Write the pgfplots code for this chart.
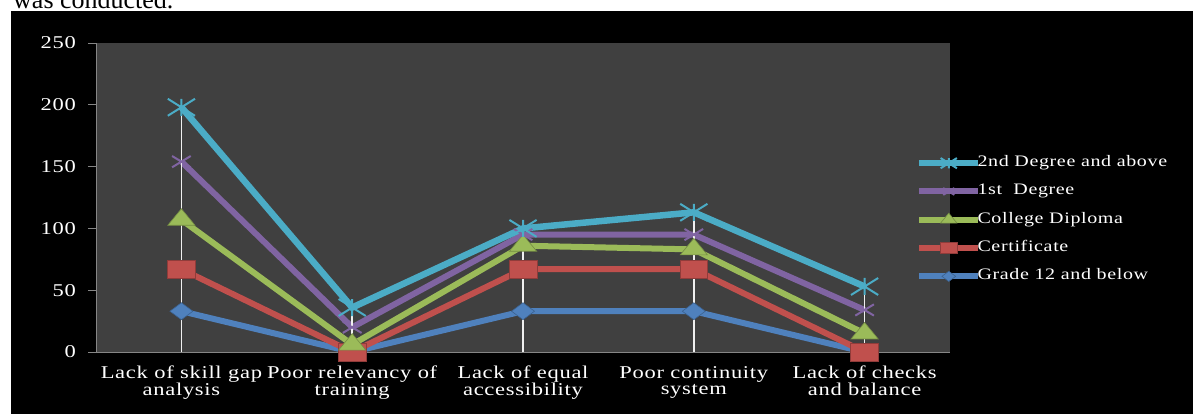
\documentclass[border=0pt]{standalone}
\usepackage{fontspec}
\setmainfont{Liberation Serif}[FakeStretch=1.25, LetterSpace=4]
\newfontfamily\docfont{Liberation Serif}
\usepackage{pgfplots}
\usepackage{pgfplotstable}
\pgfplotsset{compat=1.18}

\definecolor{serCyan}{HTML}{4BACC6}
\definecolor{serPurple}{HTML}{8064A2}
\definecolor{serGreen}{HTML}{9BBB59}
\definecolor{serRed}{HTML}{C0504D}
\definecolor{serBlue}{HTML}{4F81BD}
\definecolor{plotbg}{HTML}{404040}
\definecolor{axisgray}{HTML}{868686}

% x mark with a vertical bar through it
\pgfdeclareplotmark{xbar}{%
  \pgfpathmoveto{\pgfqpoint{-\pgfplotmarksize}{-\pgfplotmarksize}}%
  \pgfpathlineto{\pgfqpoint{\pgfplotmarksize}{\pgfplotmarksize}}%
  \pgfpathmoveto{\pgfqpoint{-\pgfplotmarksize}{\pgfplotmarksize}}%
  \pgfpathlineto{\pgfqpoint{\pgfplotmarksize}{-\pgfplotmarksize}}%
  \pgfpathmoveto{\pgfqpoint{0pt}{-\pgfplotmarksize}}%
  \pgfpathlineto{\pgfqpoint{0pt}{\pgfplotmarksize}}%
  \pgfusepathqstroke}

% cumulative values per category (stacked lines)
\pgfplotstableread{
x grade cert dipl first second
0 33 67 107 154 198
1 0 0 6 20 36
2 33 67 86 95 100
3 33 67 83 95 113
4 0 0 15 34 53
}\levels

\newcommand\lblfont{\fontsize{18bp}{16.5bp}\selectfont}
\newcommand\legfont{\fontsize{16bp}{17bp}\selectfont}

\begin{document}
\begin{tikzpicture}
\useasboundingbox (0,0) rectangle (1193bp,-414bp);
\clip (0,0) rectangle (1193bp,-414bp);
\fill[white] (0,0) rectangle (1193bp,-414bp);
\node[anchor=base west, inner sep=0pt, font=\docfont\fontsize{26bp}{28bp}\selectfont]
  at (13bp,-8bp) {was conducted.};
\fill[black] (11bp,-11bp) rectangle (1193bp,-414bp);

\begin{axis}[
  at={(96bp,-352bp)}, anchor=south west,
  scale only axis, width=854bp, height=309bp,
  clip=false,
  xmin=-0.5, xmax=4.5, ymin=0, ymax=250,
  enlargelimits=false,
  axis background/.style={fill=plotbg},
  axis x line*=bottom, axis y line*=left,
  axis line style={draw=axisgray, line width=0.8bp},
  xtick=data,
  xticklabels={Lack of skill gap\\analysis, Poor relevancy of\\training,
    Lack of equal\\accessibility, Poor continuity\\system,
    Lack of checks\\and balance},
  xtick style={draw=none},
  ytick={0,50,...,250},
  ytick style={draw=axisgray, line width=0.8bp},
  tick align=outside,
  major tick length=8bp,
  /pgf/number format/assume math mode=true,
  xticklabel style={align=center, font=\lblfont, text=white, inner sep=0pt, yshift=-6bp},
  yticklabel style={font=\lblfont, text=white, anchor=east, inner sep=0pt, xshift=-12bp},
  reverse legend,
  legend cell align=left,
  legend image code/.code={%
    \draw[mark repeat=2, mark phase=2, #1, /tikz/every mark/.append style={scale=0.6}]
      plot coordinates {(0bp,0bp) (29.5bp,0bp) (59bp,0bp)};},
  legend style={draw=none, fill=none, inner sep=0pt, outer sep=0pt,
    at={(0.9602,0.428)}, anchor=west, font=\legfont, text=white,
    row sep=13bp,
    nodes={inner sep=0pt, text height=11bp, text depth=4.3bp},
    /tikz/every odd column/.append style={column sep=-4bp}},
]
\addplot[serBlue, line width=6bp, mark=diamond*, mark size=8.5bp,
  mark options={xscale=1.8, fill=serBlue, draw=serBlue!75!black, line width=0.6bp}]
  table[x=x, y=grade] {\levels};
\addlegendentry{Grade 12 and below}
\addplot[serRed, line width=6bp, mark=square*, mark size=9bp,
  mark options={xscale=1.55, fill=serRed, draw=serRed!75!black, line width=0.6bp}]
  table[x=x, y=cert] {\levels};
\addlegendentry{Certificate}
\addplot[serGreen, line width=6bp, mark=triangle*, mark size=11bp,
  mark options={xscale=1.43, fill=serGreen, draw=serGreen!75!black, line width=0.6bp}]
  table[x=x, y=dipl] {\levels};
\addlegendentry{College Diploma}
\addplot[serPurple, line width=6bp, mark=x, mark size=8bp,
  mark options={xscale=1.65, line width=2bp}]
  table[x=x, y=first] {\levels};
\addlegendentry{1st\ \ Degree}
\addplot[serCyan, line width=6.5bp, mark=xbar, mark size=8.5bp,
  mark options={xscale=1.6, line width=2bp}]
  table[x=x, y=second] {\levels};
\addlegendentry{2nd Degree and above}
% drop lines from the top series down to the axis
\addplot[ycomb, white!88!gray, line width=1.6bp, no marks, forget plot]
  table[x=x, y=second] {\levels};
\end{axis}
\end{tikzpicture}
\end{document}
